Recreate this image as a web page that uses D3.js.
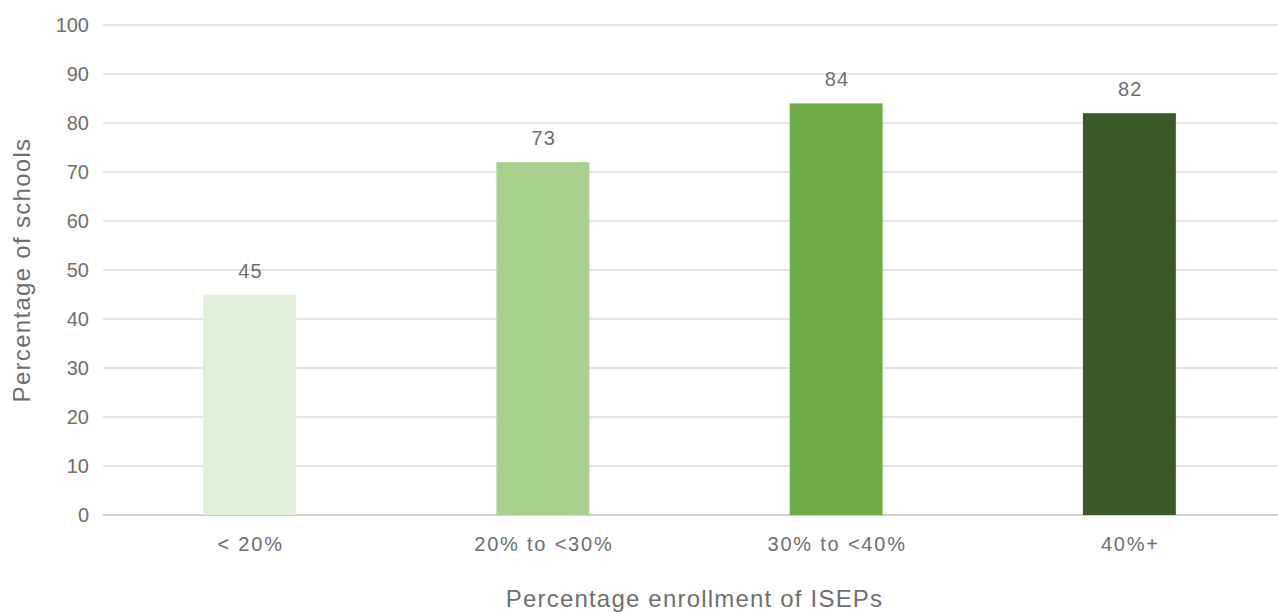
<!DOCTYPE html>
<html>
<head>
<meta charset="utf-8">
<script src="https://cdn.jsdelivr.net/npm/d3@7"></script>
<style>
  body { margin: 0; background: #fff; }
  text { font-family: "Liberation Sans", Arial, sans-serif; fill: #6f6f6f; }
</style>
</head>
<body>
<div id="chart"></div>
<script>
// Data
const categories = ["< 20%", "20% to <30%", "30% to <40%", "40%+"];
const values = [45, 72, 84, 82];          // bar heights
const valueLabels = ["45", "73", "84", "82"]; // labels printed above bars
const barColors = ["#e2efda", "#a9d18e", "#70ad47", "#3a5828"];
const yTicks = [0, 10, 20, 30, 40, 50, 60, 70, 80, 90, 100];

const W = 1278, H = 612;
const margin = {top: 25, right: 0, bottom: 97, left: 103};
const width = W - margin.left - margin.right,
      height = H - margin.top - margin.bottom;

const svg = d3.select("#chart").append("svg")
    .attr("width", W)
    .attr("height", H);

const g = svg.append("g")
    .attr("transform", `translate(${margin.left},${margin.top})`);

const x = d3.scaleBand()
  .domain(categories)
  .range([0, width - 2])
  .paddingInner(0.683)
  .paddingOuter(0.3415);

const y = d3.scaleLinear()
  .domain([0, 100])
  .range([height, 0]);

// Gridlines
g.selectAll(".grid")
  .data(yTicks)
  .enter().append("line")
    .attr("x1", 0)
    .attr("x2", width)
    .attr("y1", d => y(d))
    .attr("y2", d => y(d))
    .attr("stroke", d => d === 0 ? "#a6a6a6" : "#cbcbcb")
    .attr("stroke-width", 1.2);

// Y axis tick labels
const yAxis = g.append("g")
  .call(d3.axisLeft(y).tickValues(yTicks).tickSize(0).tickPadding(14));
yAxis.select(".domain").remove();
yAxis.selectAll("text")
  .style("font-size", "20px")
  .attr("fill", "#6f6f6f");

// Bars
g.selectAll(".bar")
  .data(values)
  .enter().append("rect")
    .attr("x", (d, i) => x(categories[i]))
    .attr("y", d => y(d))
    .attr("width", x.bandwidth())
    .attr("height", d => height - y(d))
    .attr("fill", (d, i) => barColors[i]);

// Value labels
g.selectAll(".val")
  .data(values)
  .enter().append("text")
    .attr("x", (d, i) => x(categories[i]) + x.bandwidth() / 2 + 1)
    .attr("y", d => y(d) - 17)
    .attr("text-anchor", "middle")
    .style("font-size", "20px")
    .style("letter-spacing", "1.2px")
    .text((d, i) => valueLabels[i]);

// X axis labels
const xAxis = g.append("g")
  .attr("transform", `translate(1,${height})`)
  .call(d3.axisBottom(x).tickSize(0).tickPadding(22));
xAxis.select(".domain").remove();
xAxis.selectAll("text")
  .style("font-size", "20px")
  .style("letter-spacing", "1.8px")
  .attr("fill", "#6f6f6f");

// Axis titles
svg.append("text")
  .attr("x", margin.left + width / 2 + 4)
  .attr("y", 607)
  .attr("text-anchor", "middle")
  .style("font-size", "24px")
  .style("letter-spacing", "1.2px")
  .text("Percentage enrollment of ISEPs");

svg.append("text")
  .attr("transform", `translate(30,${margin.top + height / 2}) rotate(-90)`)
  .attr("text-anchor", "middle")
  .style("font-size", "24px")
  .style("letter-spacing", "1.3px")
  .text("Percentage of schools");
</script>
</body>
</html>
